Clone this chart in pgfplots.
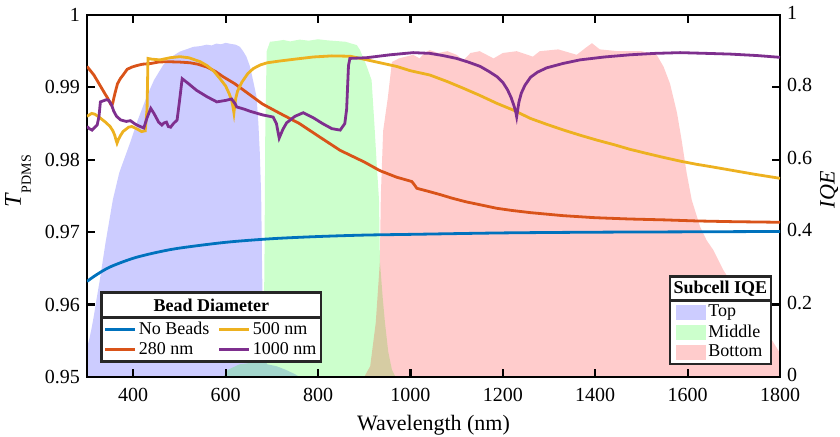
\documentclass[border=0pt]{standalone}
\usepackage{fontspec}
\setmainfont{Liberation Serif}
\usepackage{pgfplots}
\pgfplotsset{compat=1.18}
\usetikzlibrary{calc}

\definecolor{mblue}{RGB}{0,114,189}
\definecolor{morange}{RGB}{217,83,25}
\definecolor{myellow}{RGB}{237,177,32}
\definecolor{mpurple}{RGB}{126,47,142}
\definecolor{legframe}{RGB}{38,38,38}

\tikzset{
  leg/.style={draw=legframe, line width=1.2pt, fill=white, outer sep=0pt,
    inner sep=1pt, font=\fontsize{9}{10}\selectfont, nodes={inner sep=1.2pt}},
  legtitle/.style={draw=legframe, line width=1.2pt, fill=white, outer sep=0pt,
    inner sep=0pt, anchor=south west, font=\bfseries\fontsize{9}{10}\selectfont},
}
\pgfplotsset{
  common/.style={
    scale only axis, width=346.5pt, height=181pt,
    xmin=300, xmax=1800,
    tick align=inside, major tick length=4pt,
    every tick/.style={black, line width=1.1pt},
    axis line style={black, line width=1.2pt},
    tick label style={font=\fontsize{10}{12}\selectfont},
    /pgf/number format/assume math mode=true,
  },
}

\begin{document}
\begin{tikzpicture}
\path[use as bounding box] (-43.5pt,-30pt) rectangle (376.5pt,188.5pt);

% subcell IQE (right axis)
\begin{axis}[common, ymin=0, ymax=1,
    axis y line*=right, axis x line=none,
    ytick={0,0.2,0.4,0.6,0.8,1},
    yticklabel style={yshift=1pt},
    ylabel={\textit{IQE}},
    ylabel style={font=\fontsize{11}{13}\selectfont, at={(axis description cs:1.0707,0.517)}, anchor=center},
    legend style={leg, inner xsep=3pt, name=legA, at={(0.9866,0.0359)}, anchor=south east},
    legend cell align=left,
    legend image code/.code={\fill[#1] (0pt,-3.75pt) rectangle (15pt,3.75pt);},
  ]
\addplot[draw=none, fill=blue, fill opacity=0.2] table {
300 0.08
305 0.105
310 0.135
315 0.17
320 0.21
328 0.27
340 0.37
356 0.49
370 0.565
393 0.646
410 0.71
429 0.774
445 0.82
465 0.862
480 0.882
501 0.899
515 0.905
530 0.912
545 0.914
559 0.918
570 0.916
580 0.921
590 0.919
600 0.923
612 0.92
622 0.918
631 0.912
638 0.90
645 0.885
653 0.857
661 0.81
667 0.774
671 0.70
674 0.62
677 0.50
679 0.30
681 0.12
684 0.05
690 0.035
710 0.03
730 0.02
750 0.008
760 0
} \closedcycle;
\addlegendentry{Top}
\addplot[draw=none, fill=green, fill opacity=0.2] table {
595 0
605 0.02
630 0.035
660 0.04
678 0.05
682 0.08
684 0.3
686 0.7
689 0.9
696 0.926
710 0.928
725 0.931
740 0.927
760 0.932
780 0.929
800 0.933
820 0.93
840 0.928
860 0.926
875 0.92
884 0.917
891 0.903
905 0.86
916 0.82
922 0.70
927 0.59
932 0.49
934 0.32
940 0.22
945 0.15
952 0.07
960 0.02
968 0
} \closedcycle;
\addlegendentry{Middle}
\addplot[draw=none, fill=red, fill opacity=0.2] table {
900 0
913 0.03
925 0.15
934 0.32
936 0.50
941 0.68
951 0.77
960 0.87
975 0.88
990 0.885
1006 0.89
1020 0.88
1030 0.895
1042 0.903
1060 0.895
1080 0.9
1100 0.89
1115 0.875
1130 0.895
1150 0.9
1180 0.88
1200 0.895
1230 0.9
1265 0.885
1280 0.9
1320 0.905
1360 0.89
1380 0.91
1393 0.922
1410 0.905
1450 0.9
1500 0.9
1533 0.89
1548 0.857
1562 0.81
1577 0.73
1587 0.655
1598 0.563
1609 0.489
1627 0.415
1641 0.378
1656 0.35
1677 0.296
1700 0.25
1735 0.194
1760 0.15
1778 0.111
1800 0.066
} \closedcycle;
\addlegendentry{Bottom}
\end{axis}

% transmittance (left axis)
\begin{axis}[common, ymin=0.95, ymax=1,
    ytick={0.95,0.96,0.97,0.98,0.99,1}, ytick pos=left,
    xtick={400,600,800,1000,1200,1400,1600,1800},
    xticklabel style={/pgf/number format/1000 sep={}, yshift=-2pt},
    yticklabel style={/pgf/number format/.cd, fixed, precision=2},
    xlabel={Wavelength (nm)},
    xlabel style={font=\fontsize{11}{13}\selectfont, at={(axis description cs:0.5,-0.1326)}, anchor=center},
    ylabel={\fontsize{12}{14}\selectfont\textit{T}\raisebox{-5pt}{\fontsize{7}{8}\selectfont PDMS}},
    ylabel style={at={(axis description cs:-0.0996,0.54)}, anchor=center},
    legend style={leg, name=legB, at={(0.0212,0.0423)}, anchor=south west,
      /tikz/every even column/.append style={column sep=3pt}},
    legend columns=2, transpose legend, legend cell align=left,
    legend image code/.code={\draw[#1] (0pt,0pt) -- (15pt,0pt);},
    every axis plot/.append style={line width=1.4pt},
  ]
\addplot[mblue, smooth] table {
300 0.9632
320 0.9641
350 0.9652
400 0.9664
450 0.9672
500 0.9678
600 0.9686
700 0.9691
800 0.9694
900 0.9696
1000 0.9697
1200 0.9699
1400 0.9700
1600 0.97005
1800 0.9701
};
\addlegendentry{No Beads}
\addplot[morange] table {
300 0.9929
315 0.9917
328 0.9903
340 0.9890
345 0.9885
349 0.9880
352 0.9876
354 0.9875
356 0.9879
358 0.9885
361 0.9893
366 0.9905
372 0.9912
378 0.9917
387 0.9925
397 0.9928
407 0.9930
420 0.9932
438 0.9933
455 0.9935
472 0.99355
500 0.9935
523 0.9934
540 0.9932
560 0.9928
578 0.9922
594 0.9915
620 0.9905
650 0.9891
680 0.9877
718 0.9864
760 0.9850
800 0.9833
848 0.9813
900 0.9797
934 0.9785
970 0.9776
1003 0.9770
1008 0.9766
1014 0.97606
1042 0.97559
1064 0.9752
1090 0.9747
1120 0.9742
1150 0.9738
1187 0.9733
1220 0.9730
1260 0.9727
1331 0.97228
1400 0.9720
1475 0.97182
1550 0.9717
1620 0.97155
1700 0.97145
1800 0.97137
};
\addlegendentry{280 nm}
\addplot[myellow] table {
300 0.9860
310 0.9864
317 0.9863
328 0.9858
340 0.9852
350 0.9846
356 0.9840
360 0.9834
363 0.9827
365 0.9823
368 0.9828
372 0.9833
378 0.9839
390 0.9845
397 0.9846
410 0.9842
418 0.9839
426 0.9840
430 0.9870
432 0.9940
440 0.9939
458 0.9938
480 0.9941
501 0.99424
520 0.9941
545 0.99355
560 0.9930
575 0.9922
588 0.9912
600 0.9902
608 0.9891
613 0.9882
616 0.9873
618 0.9865
620 0.9876
622 0.9885
626 0.9895
635 0.9907
648 0.9919
660 0.9926
675 0.9931
690 0.9934
718 0.99365
750 0.9939
790 0.9942
830 0.99435
870 0.9943
920 0.9936
970 0.9929
1000 0.9923
1042 0.99171
1080 0.9908
1115 0.98987
1150 0.9889
1187 0.9878
1225 0.9868
1259 0.98573
1295 0.9849
1331 0.98412
1367 0.9834
1403 0.98273
1440 0.9821
1475 0.98145
1510 0.9809
1547 0.98034
1585 0.9798
1620 0.97937
1655 0.9790
1692 0.97859
1745 0.9780
1800 0.97744
};
\addlegendentry{500 nm}
\addplot[mpurple] table {
300 0.9846
305 0.9843
311 0.9841
322 0.9848
326 0.9860
329 0.9880
342 0.9883
347 0.9882
353 0.9876
358 0.9867
364 0.9860
373 0.9855
385 0.9853
394 0.9854
405 0.9849
415 0.9846
423 0.9844
430 0.9858
438 0.9871
445 0.9864
455 0.9852
462 0.9848
467 0.9851
472 0.9852
476 0.9846
481 0.9845
487 0.9850
495 0.9855
500 0.9880
506 0.9912
520 0.9905
537 0.9896
560 0.9887
581 0.9880
600 0.9882
613 0.9884
620 0.9878
624 0.9873
640 0.9870
653 0.9867
680 0.9862
703 0.9859
710 0.9850
716 0.9830
724 0.9842
732 0.9851
750 0.9860
768 0.9865
790 0.9858
810 0.9850
830 0.9843
848 0.9841
858 0.9850
862 0.9870
866 0.9930
869 0.9940
905 0.9941
956 0.9945
1006 0.9948
1042 0.9947
1070 0.9944
1100 0.9940
1125 0.9935
1151 0.9929
1170 0.9922
1187 0.9915
1200 0.9907
1210 0.9897
1218 0.9886
1224 0.9875
1228 0.9866
1230 0.98595
1232 0.9868
1235 0.9880
1240 0.9892
1248 0.9903
1260 0.9914
1275 0.9921
1295 0.9927
1330 0.9933
1367 0.9938
1420 0.9942
1475 0.9945
1530 0.9947
1584 0.9948
1640 0.9947
1692 0.9946
1750 0.9944
1800 0.99415
};
\addlegendentry{1000 nm}
\end{axis}

\path let \p1=(legB.north west), \p2=(legB.north east) in
  node[legtitle, minimum width=\x2-\x1, minimum height=12.5pt] at (\p1) {Bead Diameter};
\path let \p1=(legA.north west), \p2=(legA.north east) in
  node[legtitle, minimum width=\x2-\x1, minimum height=12pt] at (\p1) {Subcell IQE};
\end{tikzpicture}
\end{document}
